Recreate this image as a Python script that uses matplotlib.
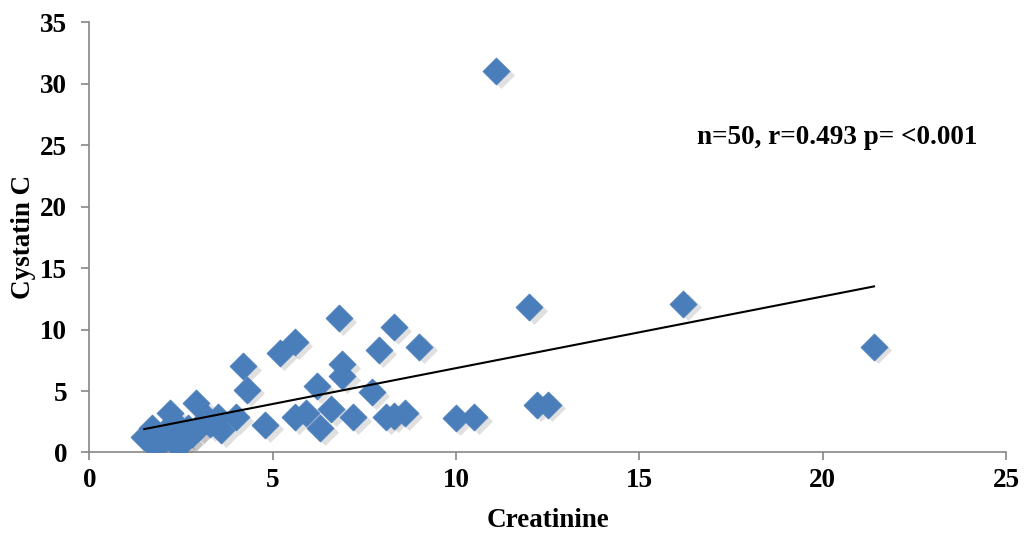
import numpy as np
import matplotlib
matplotlib.use("Agg")
import matplotlib.pyplot as plt

# creatinine vs cystatin C, one pair per patient
creatinine = [11.1, 16.2, 21.4, 12.0, 12.2, 12.5, 10.0, 10.5, 8.3, 7.9,
              9.0, 7.7, 7.2, 8.1, 8.3, 8.6, 6.8, 5.2, 5.6, 4.2,
              4.3, 6.9, 6.9, 6.2, 4.0, 4.8, 5.6, 5.9, 6.6, 6.3,
              2.9, 2.2, 1.5, 1.7, 1.8, 2.1, 2.4, 2.6, 2.7, 3.0,
              3.5, 3.6, 3.2, 1.9, 2.3, 2.0, 2.8, 3.3, 2.5, 1.6]
cystatin_c = [31.0, 12.1, 8.6, 11.8, 3.9, 3.9, 2.8, 2.9, 10.2, 8.3,
              8.6, 4.9, 2.9, 2.9, 3.0, 3.2, 10.9, 8.1, 9.0, 7.0,
              5.1, 7.2, 6.2, 5.4, 2.9, 2.2, 2.9, 3.2, 3.5, 2.0,
              4.0, 3.2, 1.3, 2.0, 0.8, 1.4, 0.6, 1.0, 2.0, 2.1,
              2.9, 1.8, 2.8, 1.2, 2.5, 0.9, 1.5, 2.3, 1.6, 1.0]
# linear trend line coefficients (cystatin = slope * creatinine + intercept)
trend_slope = 0.583
trend_intercept = 1.03
stats_label = "n=50, r=0.493 p= <0.001"

x = np.array(creatinine)
y = np.array(cystatin_c)

plt.rcParams['font.family'] = ['Liberation Serif', 'DejaVu Serif']
plt.rcParams['font.weight'] = 'bold'
fs = 19.5

fig = plt.figure(figsize=(10.27, 5.39), dpi=100)
ax = fig.add_axes([0.087, 0.1605, 0.8926, 0.7985])

axis_grey = '#868686'
blue = '#4A7EBB'

# soft drop shadow under each diamond, then the diamonds
ax.scatter(x + 0.12, y - 0.3, s=190, marker='D', color='#000000', alpha=0.12,
           linewidths=0, zorder=2)
ax.scatter(x, y, s=190, marker='D', color=blue, edgecolors=blue,
           linewidths=0.5, zorder=3)

xs = np.array([x.min(), x.max()])
ax.plot(xs, trend_slope * xs + trend_intercept, color='black', linewidth=1.5, zorder=4)

ax.text(16.57, 25.65, stats_label, fontsize=fs, fontweight='bold',
        ha='left', va='center')

ax.set_xlim(0, 25)
ax.set_ylim(0, 35)
ax.set_xticks(range(0, 26, 5))
ax.set_yticks(range(0, 36, 5))

for side in ['top', 'right']:
    ax.spines[side].set_visible(False)
for side in ['left', 'bottom']:
    ax.spines[side].set_color(axis_grey)
    ax.spines[side].set_linewidth(1.2)
ax.tick_params(axis='both', direction='out', length=6, width=1.2,
               color=axis_grey, labelsize=fs)
ax.tick_params(axis='y', pad=10)
ax.tick_params(axis='x', pad=5)
for lbl in ax.get_xticklabels() + ax.get_yticklabels():
    lbl.set_fontweight('bold')

ax.set_xlabel("Creatinine", fontsize=fs, fontweight='bold', labelpad=11)
ax.set_ylabel("Cystatin C", fontsize=fs, fontweight='bold', labelpad=3)

fig.savefig("out.png", dpi=100)
